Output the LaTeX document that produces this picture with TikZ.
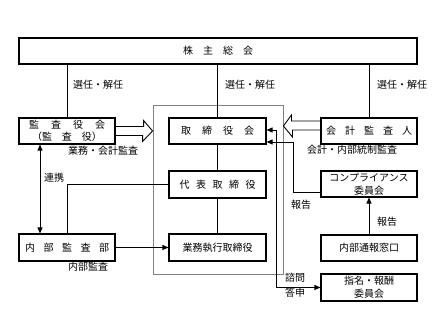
\documentclass[tikz,border=0pt]{standalone}
\usepackage{fontspec}
\newfontfamily\jpfont{Noto Sans CJK JP}
\usetikzlibrary{arrows.meta, calc}
\newcommand{\jsp}[1]{\hspace{#1pt}}

\begin{document}
\begin{tikzpicture}[x=1pt, y=1pt, >={Triangle[length=6pt,width=5pt]},
    font=\jpfont\fontsize{10}{12}\selectfont,
    box/.style={draw, line width=1.1pt, minimum width=96pt, minimum height=26pt, inner sep=1pt, align=center},
    lbl/.style={inner sep=0pt, anchor=west},
    link/.style={line width=0.8pt}]
  \useasboundingbox (0,0) rectangle (438,320);
  % board frame and boxes
  \node[draw=gray, line width=0.9pt, minimum width=130pt, minimum height=169pt] (board) at (218,130.5) {};
  \node[box, minimum width=398pt] (kabu)  at (218,269)   {株\jsp{10}主\jsp{10}総\jsp{10}会};
  \node[box]                (kansa)       at (67,189)    {監\jsp{12}査\jsp{12}役\jsp{12}会\\（監\jsp{10}査\jsp{10}役）};
  \node[box, minimum width=97pt] (tori)   at (217.5,189) {取\jsp{11}締\jsp{11}役\jsp{11}会};
  \node[box]                (kaikei)      at (369,189)   {会\jsp{9}計\jsp{9}監\jsp{9}査\jsp{9}人};
  \node[box, minimum width=97pt, minimum height=27pt] (daihyo) at (217.5,135.5) {代\jsp{6.5}表\jsp{6.5}取\jsp{6.5}締\jsp{6.5}役};
  \node[box, font=\jpfont\fontsize{10}{13}\selectfont] (compliance) at (369,136) {コンプライアンス\\委員会};
  \node[box, minimum height=27pt] (naibu) at (67,72.5)   {内\jsp{8.5}部\jsp{8.5}監\jsp{8.5}査\jsp{8.5}部};
  \node[box, minimum width=97pt, minimum height=27pt] (shikko) at (217.5,72.5) {業務執行取締役};
  \node[box]                (tsuho)       at (369,72)    {内部通報窓口};
  \node[box, minimum height=27pt, font=\jpfont\fontsize{10}{13}\selectfont] (shimei) at (369,32.5) {指名・報酬\\委員会};

  % labels
  \node[lbl] (sennin1) at (73,235)  {選任・解任};
  \node[lbl] (sennin2) at (225,235) {選任・解任};
  \node[lbl] (sennin3) at (377,235) {選任・解任};
  \node[lbl] (gyomu)   at (68,169)  {業務・会計監査};
  \node[lbl] (naitou)  at (307,170) {会計・内部統制監査};
  \node[lbl] (renkei)  at (44,142)  {連携};
  \node[lbl] (naikan)  at (68,53)   {内部監査};
  \node[lbl] (hokoku1) at (291,115) {報告};
  \node[lbl] (hokoku2) at (377,98)  {報告};
  \node[lbl] (shimonl) at (285,42)  {諮問};
  \node[lbl] (toshinl) at (285,27)  {答申};

  % connectors
  \draw[link] (kansa.north) -- (kansa.north |- kabu.south);
  \draw[link] (tori.north) -- (tori.north |- kabu.south);
  \draw[link] (kaikei.north) -- (kaikei.north |- kabu.south);
  \draw[link] (tori.south) -- (daihyo.north);
  \draw[link] (daihyo.south) -- (shikko.north);
  \draw[link] (daihyo.west) -| (naibu.north);
  \draw[link, <->] ([xshift=-27pt]kansa.south) -- ([xshift=-27pt]naibu.north);
  \draw[link, ->] (naibu.east) -- (shikko.west);
  \draw[link, ->] (tsuho.north) -- (compliance.south);
  \coordinate (hokoku) at (293,178);
  \draw[link, ->] ([yshift=-8pt]compliance.west) -| (hokoku) -- (tori.east |- hokoku);
  \coordinate (shimon) at (276,0);
  \draw[link, <->] ([yshift=1pt]tori.east) -| (shimon |- shimei.west) -- (shimei.west);

  % hollow arrows
  \draw[line width=0.9pt] ([yshift=4.5pt]kansa.east) -- ++(28,0) -- ++(0,6)
    -- (board.west |- kansa.east) -- ++(-10,-10.5) -- ++(0,6) -- ([yshift=-4.5pt]kansa.east);
  \draw[line width=0.9pt] ([yshift=10pt]kaikei.west) -- ++(-29,0) -- ++(0,6)
    -- ($(board.east |- kaikei.west)+(0,5)$) -- ++(9,-11) -- ++(0,7) -- ([yshift=1pt]kaikei.west);
\end{tikzpicture}
\end{document}
